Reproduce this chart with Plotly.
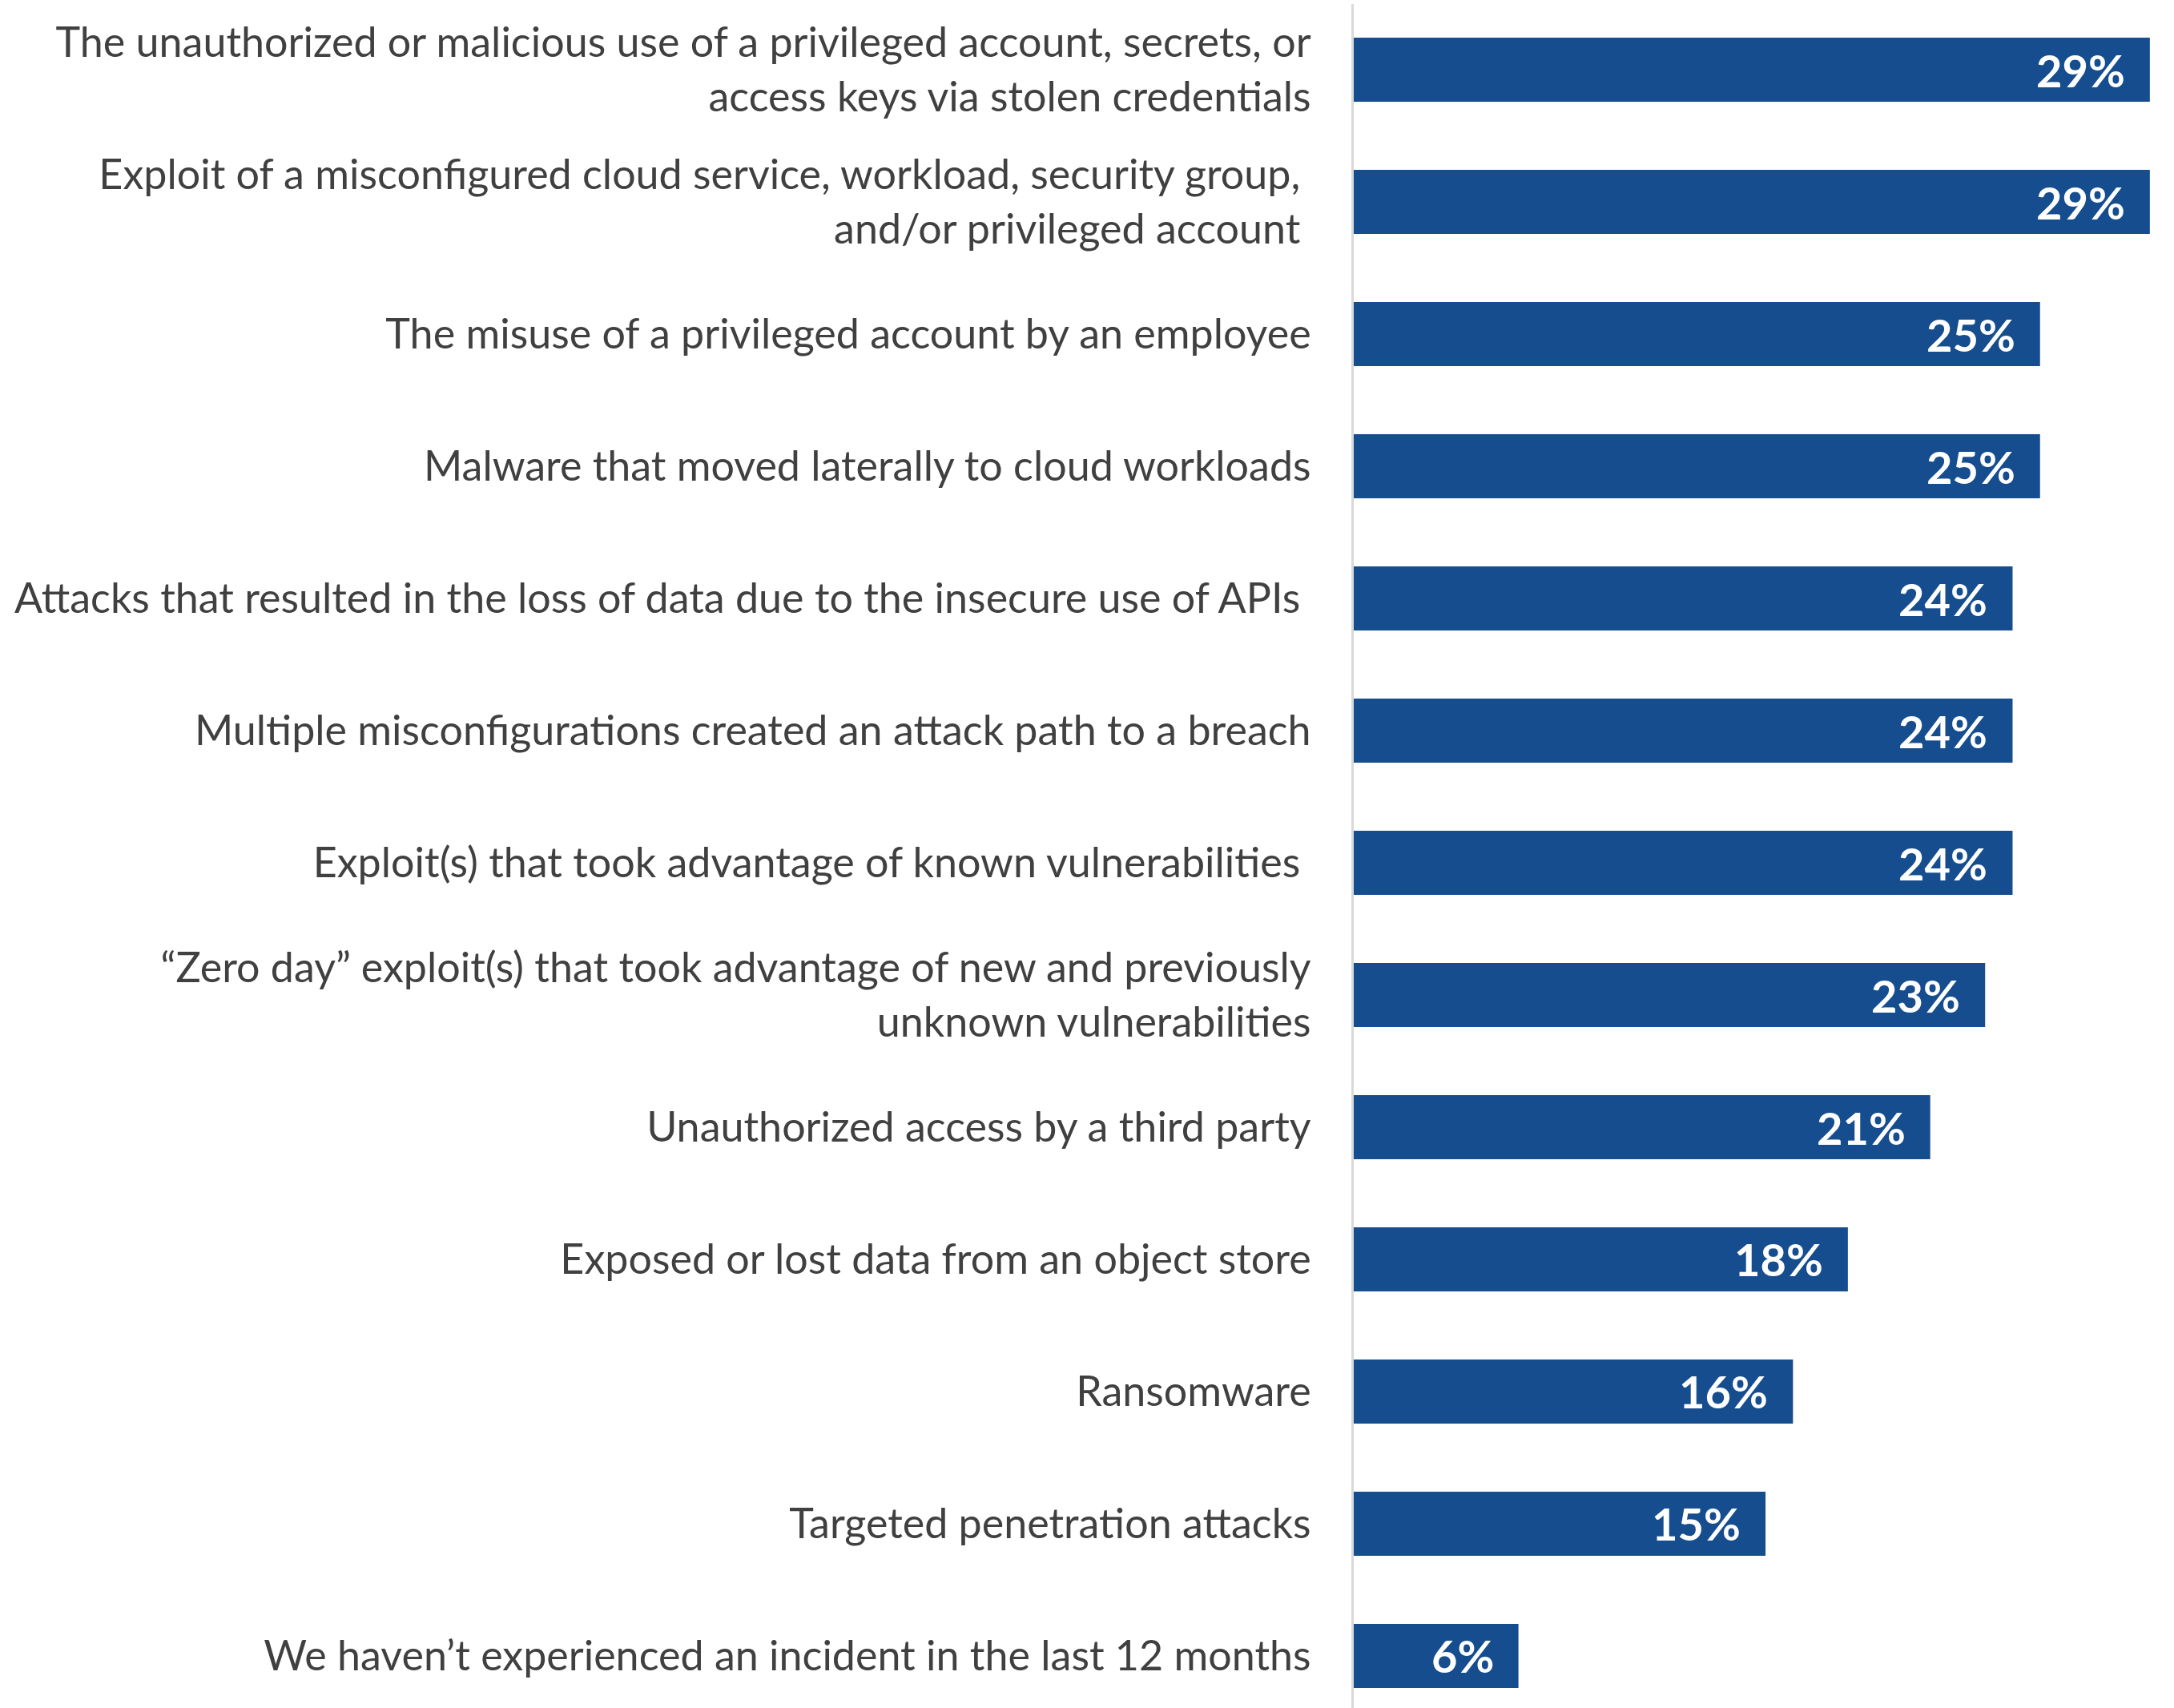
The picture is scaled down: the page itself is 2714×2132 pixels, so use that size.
import plotly.graph_objects as go

# Survey responses: cloud security incidents experienced in the last 12 months
categories = [
    "The unauthorized or malicious use of a privileged account, secrets, or<br>access keys via stolen credentials",
    "Exploit of a misconfigured cloud service, workload, security group,\u00a0<br>and/or privileged account\u00a0",
    "The misuse of a privileged account by an employee",
    "Malware that moved laterally to cloud workloads",
    "Attacks that resulted in the loss of data due to the insecure use of APIs\u00a0",
    "Multiple misconfigurations created an attack path to a breach",
    "Exploit(s) that took advantage of known vulnerabilities\u00a0",
    "\u201cZero day\u201d exploit(s) that took advantage of new and previously<br>unknown vulnerabilities",
    "Unauthorized access by a third party",
    "Exposed or lost data from an object store",
    "Ransomware",
    "Targeted penetration attacks",
    "We haven\u2019t experienced an incident in the last 12 months",
]
percentages = [29, 29, 25, 25, 24, 24, 24, 23, 21, 18, 16, 15, 6]

BAR_COLOR = "#154D8F"
LABEL_COLOR = "#404040"
FONT = "Lato"

fig = go.Figure(
    go.Bar(
        x=percentages,
        y=categories,
        orientation="h",
        marker=dict(color=BAR_COLOR, line=dict(width=0)),
        hoverinfo="skip",
    )
)

# Value labels sit inside the end of each bar
for cat, val in zip(categories, percentages):
    fig.add_annotation(
        x=val,
        y=cat,
        text=f"{val}%",
        showarrow=False,
        xanchor="right",
        yanchor="middle",
        xshift=-29,
        font=dict(family=FONT, size=56, color="white", weight="bold"),
    )

fig.update_layout(
    width=2714,
    height=2132,
    margin=dict(l=1690, r=0, t=5, b=0),
    paper_bgcolor="white",
    plot_bgcolor="white",
    bargap=0.515,
    showlegend=False,
    font=dict(family=FONT, color=LABEL_COLOR),
)

fig.update_xaxes(
    range=[0, 29.88],
    showticklabels=False,
    showgrid=False,
    zeroline=False,
    showline=False,
    ticks="",
    fixedrange=True,
)

fig.update_yaxes(
    type="category",
    range=[12.394, -0.497],
    showline=True,
    linecolor="#D9D9D9",
    linewidth=3,
    ticks="",
    showgrid=False,
    ticklabelstandoff=40,
    tickfont=dict(family=FONT, size=52, color=LABEL_COLOR),
    fixedrange=True,
)

fig.write_html("out.html")
